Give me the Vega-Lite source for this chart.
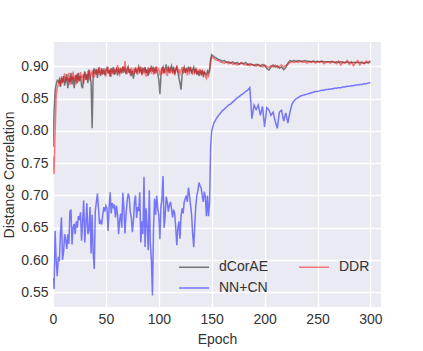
{
"$schema": "https://vega.github.io/schema/vega-lite/v6.json",
"width": 328, "height": 265,
"autosize": {"type": "none"},
"padding": {"left": 53, "top": 42, "right": 42, "bottom": 44},
"background": "white",
"config": {
  "view": {"fill": "#EAEAF2", "stroke": null},
  "font": "Liberation Sans",
  "axis": {"domain": false, "ticks": false, "grid": true, "gridColor": "white", "gridWidth": 1.3, "labelFontSize": 14, "labelColor": "#333333", "titleFontSize": 14, "titleFontWeight": "normal", "titleColor": "#333333", "labelPadding": 5}
},
"data": {"values": [
{"e":0,"dCorAE":0.775,"DDR":0.760,"NN+CN":0.572},
{"e":1,"dCorAE":0.830,"DDR":0.733,"NN+CN":0.555},
{"e":2,"dCorAE":0.862,"DDR":0.800,"NN+CN":0.645},
{"e":3,"dCorAE":0.872,"DDR":0.855,"NN+CN":0.600},
{"e":4,"dCorAE":0.878,"DDR":0.866,"NN+CN":0.575},
{"e":5,"dCorAE":0.876,"DDR":0.872,"NN+CN":0.605},
{"e":6,"dCorAE":0.880,"DDR":0.878,"NN+CN":0.598},
{"e":7,"dCorAE":0.868,"DDR":0.870,"NN+CN":0.640},
{"e":8,"dCorAE":0.882,"DDR":0.885,"NN+CN":0.666},
{"e":9,"dCorAE":0.875,"DDR":0.876,"NN+CN":0.600},
{"e":10,"dCorAE":0.885,"DDR":0.880,"NN+CN":0.612},
{"e":11,"dCorAE":0.870,"DDR":0.889,"NN+CN":0.640},
{"e":12,"dCorAE":0.880,"DDR":0.874,"NN+CN":0.632},
{"e":13,"dCorAE":0.888,"DDR":0.883,"NN+CN":0.617},
{"e":14,"dCorAE":0.866,"DDR":0.878,"NN+CN":0.640},
{"e":15,"dCorAE":0.882,"DDR":0.890,"NN+CN":0.625},
{"e":16,"dCorAE":0.875,"DDR":0.871,"NN+CN":0.676},
{"e":17,"dCorAE":0.890,"DDR":0.884,"NN+CN":0.677},
{"e":18,"dCorAE":0.872,"DDR":0.879,"NN+CN":0.624},
{"e":19,"dCorAE":0.884,"DDR":0.892,"NN+CN":0.650},
{"e":20,"dCorAE":0.866,"DDR":0.877,"NN+CN":0.656},
{"e":21,"dCorAE":0.880,"DDR":0.886,"NN+CN":0.640},
{"e":22,"dCorAE":0.887,"DDR":0.872,"NN+CN":0.660},
{"e":23,"dCorAE":0.874,"DDR":0.889,"NN+CN":0.650},
{"e":24,"dCorAE":0.890,"DDR":0.881,"NN+CN":0.668},
{"e":25,"dCorAE":0.878,"DDR":0.876,"NN+CN":0.662},
{"e":26,"dCorAE":0.885,"DDR":0.891,"NN+CN":0.674},
{"e":27,"dCorAE":0.870,"DDR":0.882,"NN+CN":0.630},
{"e":28,"dCorAE":0.866,"DDR":0.887,"NN+CN":0.660},
{"e":29,"dCorAE":0.884,"DDR":0.873,"NN+CN":0.692},
{"e":30,"dCorAE":0.892,"DDR":0.890,"NN+CN":0.627},
{"e":31,"dCorAE":0.879,"DDR":0.884,"NN+CN":0.655},
{"e":32,"dCorAE":0.888,"DDR":0.879,"NN+CN":0.688},
{"e":33,"dCorAE":0.874,"DDR":0.893,"NN+CN":0.640},
{"e":34,"dCorAE":0.895,"DDR":0.886,"NN+CN":0.646},
{"e":35,"dCorAE":0.885,"DDR":0.878,"NN+CN":0.682},
{"e":36,"dCorAE":0.875,"DDR":0.891,"NN+CN":0.610},
{"e":37,"dCorAE":0.804,"DDR":0.887,"NN+CN":0.670},
{"e":38,"dCorAE":0.890,"DDR":0.895,"NN+CN":0.610},
{"e":39,"dCorAE":0.897,"DDR":0.883,"NN+CN":0.586},
{"e":40,"dCorAE":0.888,"DDR":0.890,"NN+CN":0.676},
{"e":41,"dCorAE":0.895,"DDR":0.896,"NN+CN":0.690},
{"e":42,"dCorAE":0.882,"DDR":0.886,"NN+CN":0.703},
{"e":43,"dCorAE":0.898,"DDR":0.892,"NN+CN":0.680},
{"e":44,"dCorAE":0.891,"DDR":0.899,"NN+CN":0.656},
{"e":45,"dCorAE":0.885,"DDR":0.888,"NN+CN":0.660},
{"e":46,"dCorAE":0.897,"DDR":0.893,"NN+CN":0.655},
{"e":47,"dCorAE":0.890,"DDR":0.887,"NN+CN":0.670},
{"e":48,"dCorAE":0.893,"DDR":0.897,"NN+CN":0.682},
{"e":49,"dCorAE":0.886,"DDR":0.891,"NN+CN":0.675},
{"e":50,"dCorAE":0.895,"DDR":0.886,"NN+CN":0.684},
{"e":51,"dCorAE":0.898,"DDR":0.894,"NN+CN":0.680},
{"e":52,"dCorAE":0.889,"DDR":0.899,"NN+CN":0.645},
{"e":53,"dCorAE":0.894,"DDR":0.889,"NN+CN":0.680},
{"e":54,"dCorAE":0.884,"DDR":0.896,"NN+CN":0.705},
{"e":55,"dCorAE":0.897,"DDR":0.884,"NN+CN":0.672},
{"e":56,"dCorAE":0.892,"DDR":0.893,"NN+CN":0.688},
{"e":57,"dCorAE":0.899,"DDR":0.890,"NN+CN":0.682},
{"e":58,"dCorAE":0.887,"DDR":0.897,"NN+CN":0.686},
{"e":59,"dCorAE":0.893,"DDR":0.888,"NN+CN":0.666},
{"e":60,"dCorAE":0.896,"DDR":0.895,"NN+CN":0.684},
{"e":61,"dCorAE":0.886,"DDR":0.902,"NN+CN":0.670},
{"e":62,"dCorAE":0.898,"DDR":0.891,"NN+CN":0.640},
{"e":63,"dCorAE":0.891,"DDR":0.887,"NN+CN":0.662},
{"e":64,"dCorAE":0.895,"DDR":0.896,"NN+CN":0.672},
{"e":65,"dCorAE":0.889,"DDR":0.893,"NN+CN":0.650},
{"e":66,"dCorAE":0.900,"DDR":0.899,"NN+CN":0.704},
{"e":67,"dCorAE":0.893,"DDR":0.890,"NN+CN":0.680},
{"e":68,"dCorAE":0.897,"DDR":0.908,"NN+CN":0.641},
{"e":69,"dCorAE":0.888,"DDR":0.894,"NN+CN":0.670},
{"e":70,"dCorAE":0.895,"DDR":0.888,"NN+CN":0.690},
{"e":71,"dCorAE":0.899,"DDR":0.897,"NN+CN":0.703},
{"e":72,"dCorAE":0.890,"DDR":0.893,"NN+CN":0.698},
{"e":73,"dCorAE":0.896,"DDR":0.886,"NN+CN":0.675},
{"e":74,"dCorAE":0.885,"DDR":0.898,"NN+CN":0.666},
{"e":75,"dCorAE":0.893,"DDR":0.891,"NN+CN":0.643},
{"e":76,"dCorAE":0.881,"DDR":0.895,"NN+CN":0.660},
{"e":77,"dCorAE":0.891,"DDR":0.889,"NN+CN":0.690},
{"e":78,"dCorAE":0.897,"DDR":0.899,"NN+CN":0.700},
{"e":79,"dCorAE":0.889,"DDR":0.893,"NN+CN":0.665},
{"e":80,"dCorAE":0.895,"DDR":0.887,"NN+CN":0.682},
{"e":81,"dCorAE":0.900,"DDR":0.896,"NN+CN":0.676},
{"e":82,"dCorAE":0.892,"DDR":0.892,"NN+CN":0.705},
{"e":83,"dCorAE":0.896,"DDR":0.900,"NN+CN":0.627},
{"e":84,"dCorAE":0.888,"DDR":0.886,"NN+CN":0.660},
{"e":85,"dCorAE":0.898,"DDR":0.894,"NN+CN":0.640},
{"e":86,"dCorAE":0.893,"DDR":0.890,"NN+CN":0.729},
{"e":87,"dCorAE":0.899,"DDR":0.897,"NN+CN":0.620},
{"e":88,"dCorAE":0.890,"DDR":0.884,"NN+CN":0.680},
{"e":89,"dCorAE":0.895,"DDR":0.893,"NN+CN":0.652},
{"e":90,"dCorAE":0.885,"DDR":0.899,"NN+CN":0.615},
{"e":91,"dCorAE":0.897,"DDR":0.888,"NN+CN":0.708},
{"e":92,"dCorAE":0.892,"DDR":0.895,"NN+CN":0.625},
{"e":93,"dCorAE":0.901,"DDR":0.891,"NN+CN":0.600},
{"e":94,"dCorAE":0.894,"DDR":0.898,"NN+CN":0.545},
{"e":95,"dCorAE":0.897,"DDR":0.887,"NN+CN":0.650},
{"e":96,"dCorAE":0.889,"DDR":0.894,"NN+CN":0.695},
{"e":97,"dCorAE":0.899,"DDR":0.889,"NN+CN":0.670},
{"e":98,"dCorAE":0.893,"DDR":0.900,"NN+CN":0.700},
{"e":99,"dCorAE":0.888,"DDR":0.893,"NN+CN":0.680},
{"e":100,"dCorAE":0.880,"DDR":0.896,"NN+CN":0.670},
{"e":101,"dCorAE":0.857,"DDR":0.886,"NN+CN":0.632},
{"e":102,"dCorAE":0.885,"DDR":0.893,"NN+CN":0.682},
{"e":103,"dCorAE":0.895,"DDR":0.899,"NN+CN":0.695},
{"e":104,"dCorAE":0.899,"DDR":0.888,"NN+CN":0.730},
{"e":105,"dCorAE":0.890,"DDR":0.895,"NN+CN":0.650},
{"e":106,"dCorAE":0.897,"DDR":0.890,"NN+CN":0.668},
{"e":107,"dCorAE":0.903,"DDR":0.897,"NN+CN":0.698},
{"e":108,"dCorAE":0.894,"DDR":0.885,"NN+CN":0.690},
{"e":109,"dCorAE":0.898,"DDR":0.894,"NN+CN":0.675},
{"e":110,"dCorAE":0.890,"DDR":0.899,"NN+CN":0.685},
{"e":111,"dCorAE":0.896,"DDR":0.889,"NN+CN":0.690},
{"e":112,"dCorAE":0.901,"DDR":0.896,"NN+CN":0.680},
{"e":113,"dCorAE":0.893,"DDR":0.891,"NN+CN":0.666},
{"e":114,"dCorAE":0.897,"DDR":0.898,"NN+CN":0.678},
{"e":115,"dCorAE":0.888,"DDR":0.886,"NN+CN":0.672},
{"e":116,"dCorAE":0.895,"DDR":0.894,"NN+CN":0.650},
{"e":117,"dCorAE":0.899,"DDR":0.901,"NN+CN":0.623},
{"e":118,"dCorAE":0.891,"DDR":0.890,"NN+CN":0.650},
{"e":119,"dCorAE":0.882,"DDR":0.896,"NN+CN":0.660},
{"e":120,"dCorAE":0.874,"DDR":0.888,"NN+CN":0.633},
{"e":121,"dCorAE":0.864,"DDR":0.893,"NN+CN":0.668},
{"e":122,"dCorAE":0.886,"DDR":0.899,"NN+CN":0.680},
{"e":123,"dCorAE":0.895,"DDR":0.889,"NN+CN":0.672},
{"e":124,"dCorAE":0.899,"DDR":0.895,"NN+CN":0.690},
{"e":125,"dCorAE":0.890,"DDR":0.891,"NN+CN":0.695},
{"e":126,"dCorAE":0.896,"DDR":0.897,"NN+CN":0.700},
{"e":127,"dCorAE":0.893,"DDR":0.886,"NN+CN":0.690},
{"e":128,"dCorAE":0.900,"DDR":0.894,"NN+CN":0.712},
{"e":129,"dCorAE":0.894,"DDR":0.890,"NN+CN":0.700},
{"e":130,"dCorAE":0.897,"DDR":0.899,"NN+CN":0.685},
{"e":131,"dCorAE":0.889,"DDR":0.892,"NN+CN":0.670},
{"e":132,"dCorAE":0.895,"DDR":0.887,"NN+CN":0.640},
{"e":133,"dCorAE":0.899,"DDR":0.896,"NN+CN":0.620},
{"e":134,"dCorAE":0.891,"DDR":0.891,"NN+CN":0.655},
{"e":135,"dCorAE":0.896,"DDR":0.898,"NN+CN":0.685},
{"e":136,"dCorAE":0.887,"DDR":0.888,"NN+CN":0.700},
{"e":137,"dCorAE":0.893,"DDR":0.894,"NN+CN":0.708},
{"e":138,"dCorAE":0.885,"DDR":0.890,"NN+CN":0.720},
{"e":139,"dCorAE":0.892,"DDR":0.896,"NN+CN":0.715},
{"e":140,"dCorAE":0.888,"DDR":0.889,"NN+CN":0.712},
{"e":141,"dCorAE":0.894,"DDR":0.893,"NN+CN":0.700},
{"e":142,"dCorAE":0.886,"DDR":0.886,"NN+CN":0.690},
{"e":143,"dCorAE":0.891,"DDR":0.891,"NN+CN":0.706},
{"e":144,"dCorAE":0.889,"DDR":0.884,"NN+CN":0.698},
{"e":145,"dCorAE":0.887,"DDR":0.881,"NN+CN":0.668},
{"e":146,"dCorAE":0.893,"DDR":0.888,"NN+CN":0.700},
{"e":147,"dCorAE":0.890,"DDR":0.885,"NN+CN":0.668},
{"e":148,"dCorAE":0.895,"DDR":0.893,"NN+CN":0.690},
{"e":149,"dCorAE":0.912,"DDR":0.905,"NN+CN":0.775},
{"e":150,"dCorAE":0.918,"DDR":0.915,"NN+CN":0.800},
{"e":152,"dCorAE":0.915,"DDR":0.912,"NN+CN":0.812},
{"e":154,"dCorAE":0.913,"DDR":0.910,"NN+CN":0.818},
{"e":156,"dCorAE":0.911,"DDR":0.909,"NN+CN":0.823},
{"e":158,"dCorAE":0.910,"DDR":0.907,"NN+CN":0.827},
{"e":160,"dCorAE":0.908,"DDR":0.906,"NN+CN":0.831},
{"e":162,"dCorAE":0.909,"DDR":0.905,"NN+CN":0.834},
{"e":164,"dCorAE":0.906,"DDR":0.907,"NN+CN":0.837},
{"e":166,"dCorAE":0.907,"DDR":0.904,"NN+CN":0.840},
{"e":168,"dCorAE":0.905,"DDR":0.906,"NN+CN":0.842},
{"e":170,"dCorAE":0.907,"DDR":0.903,"NN+CN":0.845},
{"e":172,"dCorAE":0.904,"DDR":0.905,"NN+CN":0.848},
{"e":174,"dCorAE":0.906,"DDR":0.902,"NN+CN":0.851},
{"e":176,"dCorAE":0.903,"DDR":0.904,"NN+CN":0.853},
{"e":178,"dCorAE":0.905,"DDR":0.906,"NN+CN":0.856},
{"e":180,"dCorAE":0.904,"DDR":0.903,"NN+CN":0.858},
{"e":182,"dCorAE":0.906,"DDR":0.902,"NN+CN":0.861},
{"e":184,"dCorAE":0.902,"DDR":0.904,"NN+CN":0.863},
{"e":186,"dCorAE":0.904,"DDR":0.901,"NN+CN":0.867},
{"e":188,"dCorAE":0.903,"DDR":0.903,"NN+CN":0.819},
{"e":190,"dCorAE":0.901,"DDR":0.902,"NN+CN":0.840},
{"e":192,"dCorAE":0.903,"DDR":0.900,"NN+CN":0.833},
{"e":194,"dCorAE":0.902,"DDR":0.903,"NN+CN":0.840},
{"e":196,"dCorAE":0.900,"DDR":0.901,"NN+CN":0.824},
{"e":198,"dCorAE":0.903,"DDR":0.899,"NN+CN":0.838},
{"e":200,"dCorAE":0.901,"DDR":0.902,"NN+CN":0.806},
{"e":202,"dCorAE":0.897,"DDR":0.900,"NN+CN":0.836},
{"e":204,"dCorAE":0.894,"DDR":0.898,"NN+CN":0.833},
{"e":206,"dCorAE":0.899,"DDR":0.901,"NN+CN":0.824},
{"e":208,"dCorAE":0.902,"DDR":0.899,"NN+CN":0.829},
{"e":210,"dCorAE":0.899,"DDR":0.902,"NN+CN":0.815},
{"e":212,"dCorAE":0.901,"DDR":0.898,"NN+CN":0.804},
{"e":214,"dCorAE":0.897,"DDR":0.900,"NN+CN":0.829},
{"e":216,"dCorAE":0.899,"DDR":0.902,"NN+CN":0.832},
{"e":218,"dCorAE":0.895,"DDR":0.899,"NN+CN":0.815},
{"e":220,"dCorAE":0.898,"DDR":0.901,"NN+CN":0.828},
{"e":222,"dCorAE":0.905,"DDR":0.903,"NN+CN":0.812},
{"e":224,"dCorAE":0.909,"DDR":0.906,"NN+CN":0.830},
{"e":226,"dCorAE":0.908,"DDR":0.907,"NN+CN":0.842},
{"e":228,"dCorAE":0.909,"DDR":0.906,"NN+CN":0.847},
{"e":230,"dCorAE":0.908,"DDR":0.907,"NN+CN":0.850},
{"e":232,"dCorAE":0.909,"DDR":0.906,"NN+CN":0.852},
{"e":234,"dCorAE":0.908,"DDR":0.908,"NN+CN":0.854},
{"e":236,"dCorAE":0.908,"DDR":0.906,"NN+CN":0.855},
{"e":238,"dCorAE":0.909,"DDR":0.907,"NN+CN":0.856},
{"e":240,"dCorAE":0.908,"DDR":0.905,"NN+CN":0.857},
{"e":242,"dCorAE":0.908,"DDR":0.907,"NN+CN":0.858},
{"e":244,"dCorAE":0.907,"DDR":0.906,"NN+CN":0.859},
{"e":246,"dCorAE":0.908,"DDR":0.908,"NN+CN":0.860},
{"e":248,"dCorAE":0.907,"DDR":0.905,"NN+CN":0.861},
{"e":250,"dCorAE":0.908,"DDR":0.907,"NN+CN":0.861},
{"e":252,"dCorAE":0.907,"DDR":0.906,"NN+CN":0.862},
{"e":254,"dCorAE":0.908,"DDR":0.908,"NN+CN":0.863},
{"e":256,"dCorAE":0.907,"DDR":0.904,"NN+CN":0.863},
{"e":258,"dCorAE":0.907,"DDR":0.906,"NN+CN":0.864},
{"e":260,"dCorAE":0.907,"DDR":0.907,"NN+CN":0.864},
{"e":262,"dCorAE":0.907,"DDR":0.905,"NN+CN":0.865},
{"e":264,"dCorAE":0.907,"DDR":0.908,"NN+CN":0.865},
{"e":266,"dCorAE":0.906,"DDR":0.906,"NN+CN":0.866},
{"e":268,"dCorAE":0.907,"DDR":0.904,"NN+CN":0.866},
{"e":270,"dCorAE":0.906,"DDR":0.908,"NN+CN":0.867},
{"e":272,"dCorAE":0.907,"DDR":0.902,"NN+CN":0.867},
{"e":274,"dCorAE":0.906,"DDR":0.907,"NN+CN":0.868},
{"e":276,"dCorAE":0.906,"DDR":0.905,"NN+CN":0.868},
{"e":278,"dCorAE":0.907,"DDR":0.909,"NN+CN":0.869},
{"e":280,"dCorAE":0.906,"DDR":0.903,"NN+CN":0.869},
{"e":282,"dCorAE":0.906,"DDR":0.907,"NN+CN":0.870},
{"e":284,"dCorAE":0.906,"DDR":0.901,"NN+CN":0.870},
{"e":286,"dCorAE":0.906,"DDR":0.906,"NN+CN":0.871},
{"e":288,"dCorAE":0.906,"DDR":0.909,"NN+CN":0.871},
{"e":290,"dCorAE":0.906,"DDR":0.902,"NN+CN":0.872},
{"e":292,"dCorAE":0.906,"DDR":0.907,"NN+CN":0.872},
{"e":294,"dCorAE":0.905,"DDR":0.904,"NN+CN":0.873},
{"e":296,"dCorAE":0.906,"DDR":0.908,"NN+CN":0.873},
{"e":298,"dCorAE":0.906,"DDR":0.905,"NN+CN":0.874},
{"e":300,"dCorAE":0.907,"DDR":0.909,"NN+CN":0.875}
]},
"transform": [{"fold": ["dCorAE", "DDR", "NN+CN"], "as": ["series", "value"]}],
"mark": {"type": "line", "strokeWidth": 1.5, "opacity": 0.5, "clip": true},
"encoding": {
  "x": {"field": "e", "type": "quantitative", "scale": {"domain": [0, 310], "nice": false, "zero": false},
        "axis": {"values": [0, 50, 100, 150, 200, 250, 300], "title": "Epoch", "titlePadding": 6, "labelFlush": false}},
  "y": {"field": "value", "type": "quantitative", "scale": {"domain": [0.5272, 0.9377], "nice": false, "zero": false},
        "axis": {"values": [0.55, 0.6, 0.65, 0.7, 0.75, 0.8, 0.85, 0.9], "format": ".2f", "title": "Distance Correlation", "titlePadding": 4, "labelFlush": false}},
  "color": {"field": "series", "type": "nominal",
        "scale": {"domain": ["dCorAE", "NN+CN", "DDR"], "range": ["#000000", "#0000ff", "#ff0000"]},
        "legend": {"title": null, "orient": "none", "legendX": 125, "legendY": 216.5, "columns": 2, "symbolType": "M-1,0H3", "symbolSize": 225, "symbolStrokeWidth": 1.5, "symbolOpacity": 0.5, "labelFontSize": 14, "labelColor": "#333333", "labelOffset": 24, "columnPadding": 27, "rowPadding": 5, "padding": 0}}
}
}
